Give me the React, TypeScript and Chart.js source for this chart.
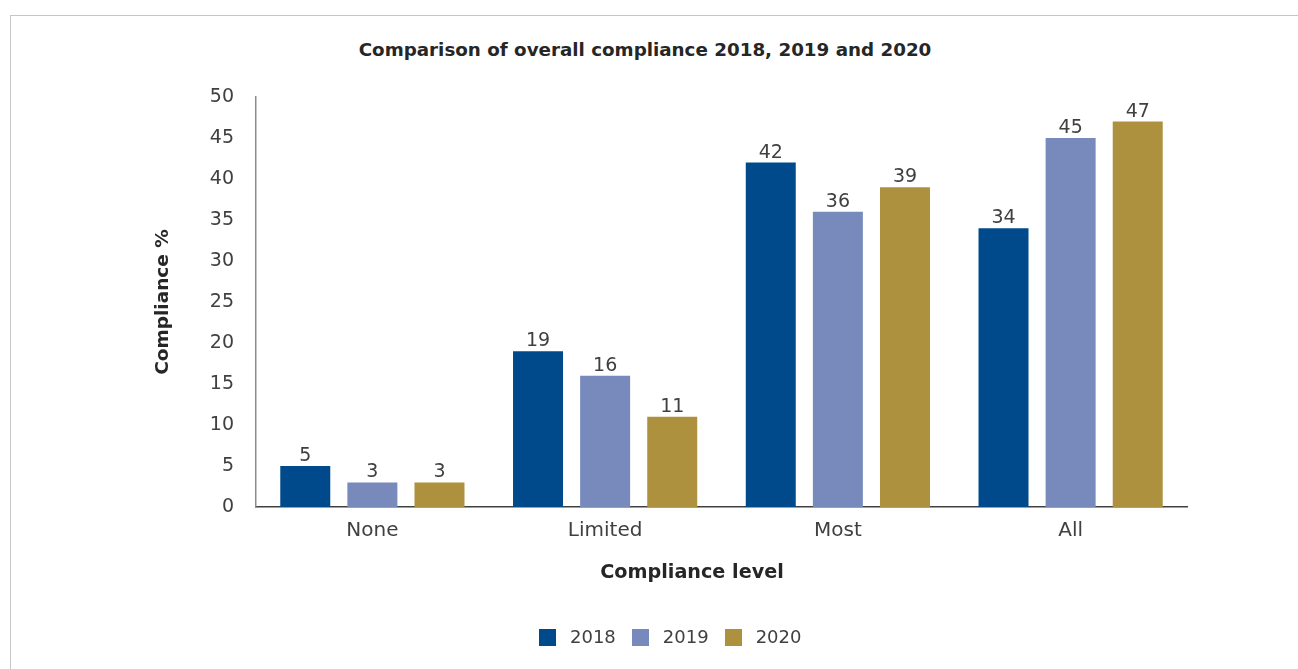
import React, { useEffect, useRef } from "react";
import { Chart, registerables } from "chart.js";

Chart.register(...registerables);

const categories = ["None", "Limited", "Most", "All"];
const seriesNames = ["2018", "2019", "2020"];
const values2018 = [5, 19, 42, 34];
const values2019 = [3, 16, 36, 45];
const values2020 = [3, 11, 39, 47];
const seriesColors = ["#004A8C", "#788ABC", "#AD913E"];
const yTickMax = 50;
const yTickStep = 5;

const titleText = "Comparison of overall compliance 2018, 2019 and 2020";
const xTitle = "Compliance level";
const yTitle = "Compliance %";

const FONT = "'DejaVu Sans', sans-serif";
const TEXT = "#404040";

const valueLabels = {
  id: "valueLabels",
  afterDatasetsDraw(chart: any) {
    const ctx = chart.ctx;
    ctx.save();
    ctx.font = `19px ${FONT}`;
    ctx.fillStyle = TEXT;
    ctx.textAlign = "center";
    ctx.textBaseline = "alphabetic";
    chart.data.datasets.forEach((ds: any, i: number) => {
      const meta = chart.getDatasetMeta(i);
      meta.data.forEach((bar: any, j: number) => {
        ctx.fillText(String(ds.data[j]), bar.x, bar.y - 5);
      });
    });
    ctx.restore();
  },
};

export default function App() {
  const canvasRef = useRef<HTMLCanvasElement | null>(null);

  useEffect(() => {
    if (!canvasRef.current) return;
    const allValues = [values2018, values2019, values2020];
    const chart = new Chart(canvasRef.current, {
      type: "bar",
      data: {
        labels: categories,
        datasets: seriesNames.map((name, i) => ({
          label: name,
          data: allValues[i],
          backgroundColor: seriesColors[i],
          borderWidth: 0,
          categoryPercentage: 0.865,
          barPercentage: 0.745,
        })),
      },
      options: {
        responsive: false,
        animation: false,
        events: [],
        layout: { padding: { top: 82, right: 111, left: 0, bottom: 122 } },
        plugins: {
          legend: { display: false },
          title: { display: false },
          tooltip: { enabled: false },
        },
        scales: {
          x: {
            grid: { display: false, drawTicks: false },
            border: { display: true, color: "#404040", width: 1.5 },
            ticks: { color: TEXT, font: { family: FONT, size: 20 }, padding: 12 },
            afterFit(scale: any) {
              scale.height = 40;
            },
          },
          y: {
            min: 0,
            max: yTickMax,
            grid: { display: false, drawTicks: false },
            border: { display: true, color: "#8c8c8c", width: 1.5 },
            ticks: {
              stepSize: yTickStep,
              color: TEXT,
              font: { family: FONT, size: 19 },
              padding: 22,
            },
            title: {
              display: true,
              text: yTitle,
              color: "#262626",
              font: { family: FONT, size: 18.5, weight: "bold" },
              padding: { top: 142, bottom: 0 },
            },
            afterFit(scale: any) {
              scale.width = 246;
            },
          },
        },
      },
      plugins: [valueLabels],
    });
    return () => chart.destroy();
  }, []);

  return (
    <div
      style={{
        position: "fixed",
        left: 0,
        top: 0,
        width: 1298,
        height: 669,
        overflow: "hidden",
        background: "#fff",
        fontFamily: FONT,
      }}
    >
      <div
        style={{
          position: "absolute",
          left: 10,
          top: 15,
          width: 1320,
          height: 700,
          border: "1.5px solid #c6c6c6",
          boxSizing: "border-box",
        }}
      />
      <div
        style={{
          position: "absolute",
          left: 0,
          width: 1290,
          top: 38,
          textAlign: "center",
          fontSize: 18.3,
          fontWeight: "bold",
          color: "#262626",
          lineHeight: "24px",
        }}
      >
        {titleText}
      </div>
      <canvas
        ref={canvasRef}
        width={1288}
        height={654}
        style={{ position: "absolute", left: 10, top: 15 }}
      />
      <div
        style={{
          position: "absolute",
          left: 492,
          width: 400,
          top: 559,
          textAlign: "center",
          fontSize: 19.2,
          fontWeight: "bold",
          color: "#262626",
          lineHeight: "26px",
        }}
      >
        {xTitle}
      </div>
      <div
        style={{
          position: "absolute",
          left: 539,
          top: 626,
          display: "flex",
          alignItems: "center",
          height: 22,
        }}
      >
        {seriesNames.map((name, i) => (
          <div key={name} style={{ display: "flex", alignItems: "center", marginRight: 16 }}>
            <span
              style={{
                display: "inline-block",
                width: 17,
                height: 17,
                background: seriesColors[i],
                marginRight: 14,
              }}
            />
            <span style={{ fontSize: 18, color: TEXT, lineHeight: "22px" }}>{name}</span>
          </div>
        ))}
      </div>
    </div>
  );
}
